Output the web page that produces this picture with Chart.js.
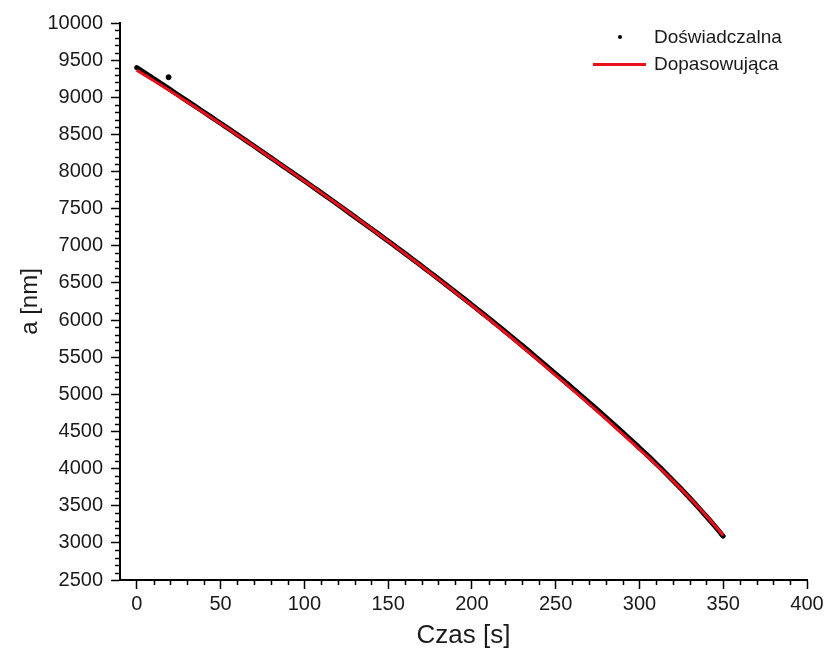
<!DOCTYPE html>
<html>
<head>
<meta charset="utf-8">
<script src="https://cdn.jsdelivr.net/npm/chart.js@4/dist/chart.umd.min.js"></script>
<style>
  html, body { margin: 0; padding: 0; background: #fff; }
  #wrap { position: relative; width: 828px; height: 661px; }
  #legend { position: absolute; left: 0; top: 0; width: 828px; height: 100px; pointer-events: none;
            font-family: "Liberation Sans", Arial, sans-serif; font-size: 19px; color: #1a1a1a; }
  .lg-item { position: absolute; left: 654px; line-height: 22px; white-space: nowrap; }
  .lg-dot { position: absolute; left: 618px; width: 4px; height: 4px; border-radius: 50%; background: #000; }
  .lg-line { position: absolute; left: 593px; width: 53px; height: 3px; background: #e8101a; }
</style>
</head>
<body>
<div id="wrap">
  <canvas id="c" width="828" height="661"></canvas>
  <div id="legend">
    <span class="lg-dot" style="top:35px"></span>
    <span class="lg-item" style="top:26px">Doświadczalna</span>
    <span class="lg-line" style="top:63px"></span>
    <span class="lg-item" style="top:53px">Dopasowująca</span>
  </div>
</div>
<script>
// ---- data ----
const expTime = [0,5,10,15,20,25,30,35,40,45,50,55,60,65,70,75,80,85,90,95,100,
  105,110,115,120,125,130,135,140,145,150,155,160,165,170,175,180,185,190,195,200,
  205,210,215,220,225,230,235,240,245,250,255,260,265,270,275,280,285,290,295,300,
  305,310,315,320,325,330,335,340,345,350];
const expValues = [9400,9326,9252,9177,9102,9027,8952,8877,8801,8725,8650,8574,8497,8420,8343,8265,8187,8109,8031,7953,7875,
  7796,7716,7636,7555,7474,7393,7311,7229,7147,7065,6982,6898,6813,6728,6642,6556,6469,6382,6294,6205,
  6116,6026,5935,5843,5750,5657,5563,5468,5372,5275,5180,5084,4987,4889,4790,4690,4589,4487,4384,4280,
  4174,4066,3955,3841,3724,3604,3481,3355,3225,3090];
const outlierTime = [19];
const outlierValues = [9270];
const fitTime = [0,10,20,30,40,50,60,70,80,90,100,110,120,130,140,150,160,170,180,190,200,
  210,220,230,240,250,260,270,280,290,300,310,320,330,340,350];
const fitValues = [9365,9225,9083,8938,8792,8643,8493,8340,8185,8030,7873,7715,7555,7393,7229,7063,6895,6724,6551,6375,6196,
  6014,5829,5641,5450,5256,5063,4867,4668,4465,4260,4052,3834,3604,3362,3100];
const xTicks = [0,50,100,150,200,250,300,350,400];
const yTicks = [2500,3000,3500,4000,4500,5000,5500,6000,6500,7000,7500,8000,8500,9000,9500,10000];
const xMinorStep = 10, yMinorStep = 100;
const seriesNames = ['Doświadczalna', 'Dopasowująca'];
const xTitle = 'Czas [s]', yTitle = 'a [nm]';

const zip = (xs, ys) => xs.map((x, i) => ({ x, y: ys[i] }));
const FONT = '"Liberation Sans", Arial, sans-serif';
const TXT = '#1a1a1a';

const minorTicks = {
  id: 'minorTicks',
  afterDraw(chart) {
    const ctx = chart.ctx, xs = chart.scales.x, ys = chart.scales.y;
    const area = chart.chartArea;
    ctx.save();
    ctx.strokeStyle = '#000';
    ctx.lineWidth = 1.5;
    ctx.beginPath();
    for (let v = xs.min; v <= xs.max + 1e-9; v += xMinorStep) {
      if (xTicks.includes(v) || v < xTicks[0]) continue;
      const px = Math.round(xs.getPixelForValue(v)) + 0.5;
      ctx.moveTo(px, area.bottom); ctx.lineTo(px, area.bottom + 5);
    }
    for (let v = ys.min; v <= ys.max + 1e-9; v += yMinorStep) {
      if (yTicks.includes(v)) continue;
      const py = Math.round(ys.getPixelForValue(v)) + 0.5;
      ctx.moveTo(area.left, py); ctx.lineTo(area.left - 5, py);
    }
    ctx.stroke();
    ctx.restore();
  }
};

new Chart(document.getElementById('c'), {
  type: 'scatter',
  data: {
    datasets: [
      { label: seriesNames[1], data: zip(fitTime, fitValues), showLine: true, borderColor: '#e8101a',
        borderWidth: 3, pointRadius: 0, fill: false, tension: 0.3, order: 0 },
      { label: seriesNames[0], data: zip(expTime, expValues), showLine: true, borderColor: '#000',
        borderWidth: 5, pointRadius: 0, fill: false, tension: 0.3, order: 1, borderCapStyle: 'round' },
      { label: seriesNames[0] + ' ', data: zip(outlierTime, outlierValues), showLine: false,
        backgroundColor: '#000', borderColor: '#000', pointRadius: 2.5, order: 2 }
    ]
  },
  options: {
    responsive: false,
    animation: false,
    layout: { padding: { top: 23, right: 21, bottom: 0, left: 0 } },
    plugins: { legend: { display: false }, tooltip: { enabled: false } },
    scales: {
      x: {
        type: 'linear', min: -10, max: 400,
        afterBuildTicks: s => { s.ticks = xTicks.map(v => ({ value: v })); },
        afterFit: s => { s.height = 81; },
        grid: { drawOnChartArea: false, drawTicks: true, tickLength: 9, tickWidth: 1.5, tickColor: '#000' },
        border: { display: true, color: '#000', width: 2 },
        ticks: { color: TXT, font: { family: FONT, size: 20 }, padding: 3, maxRotation: 0, callback: v => String(v) },
        title: { display: true, text: xTitle, color: TXT, font: { family: FONT, size: 26 }, padding: { top: 0, bottom: 10 } }
      },
      y: {
        type: 'linear', min: 2500, max: 10000,
        afterBuildTicks: s => { s.ticks = yTicks.map(v => ({ value: v })); },
        afterFit: s => { s.width = 120; },
        grid: { drawOnChartArea: false, drawTicks: true, tickLength: 9, tickWidth: 1.5, tickColor: '#000' },
        border: { display: true, color: '#000', width: 2 },
        ticks: { color: TXT, font: { family: FONT, size: 20 }, padding: 8, callback: v => String(v) },
        title: { display: true, text: yTitle, color: TXT, font: { family: FONT, size: 24 }, padding: { top: 16, bottom: 0 } }
      }
    }
  },
  plugins: [minorTicks]
});
</script>
</body>
</html>
